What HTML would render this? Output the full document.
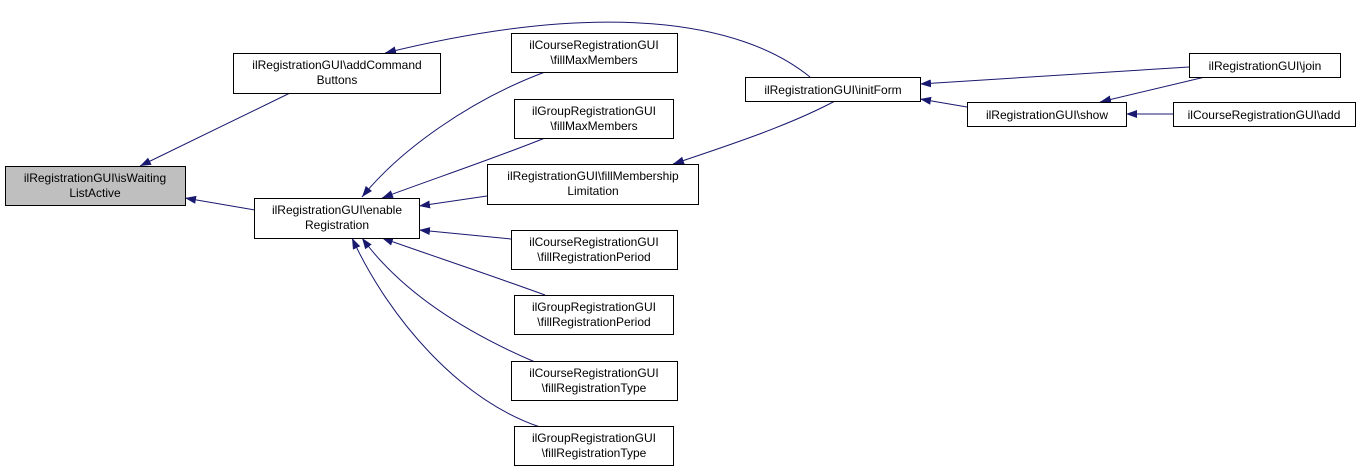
<!DOCTYPE html>
<html><head><meta charset="utf-8"><style>
body{margin:0;background:#fff;}
svg text{font-family:"Liberation Sans",Arial,sans-serif;font-size:12px;fill:#000;text-anchor:middle;}
</style></head><body>
<svg width="1368" height="471" viewBox="0 0 1368 471" xmlns="http://www.w3.org/2000/svg">
<defs><marker id="a" markerWidth="12" markerHeight="10" refX="11" refY="4" orient="auto" markerUnits="userSpaceOnUse"><path d="M0,0 L11,4 L0,8 Z" fill="#191970"/></marker></defs>
<g fill="none" stroke="#191970" stroke-width="1">
<path d="M290,93 L140,166" marker-end="url(#a)"/>
<path d="M255,210 L185,198" marker-end="url(#a)"/>
<path d="M810,77 C740,20 600,0 385,53" marker-end="url(#a)"/>
<path d="M545,72 C470,100 400,150 362,197" marker-end="url(#a)"/>
<path d="M545,138 C490,160 430,180 382,198" marker-end="url(#a)"/>
<path d="M487,196 L419,206" marker-end="url(#a)"/>
<path d="M511,239 L419,230" marker-end="url(#a)"/>
<path d="M545,295 C490,275 430,255 382,238" marker-end="url(#a)"/>
<path d="M535,362 C460,330 400,290 362,238" marker-end="url(#a)"/>
<path d="M540,427 C460,400 390,320 352,238" marker-end="url(#a)"/>
<path d="M835,101 C790,125 730,145 673,164" marker-end="url(#a)"/>
<path d="M1189,67 L920,84" marker-end="url(#a)"/>
<path d="M967,107 L920,99" marker-end="url(#a)"/>
<path d="M1205,77 L1100,102" marker-end="url(#a)"/>
<path d="M1173,114 L1126,114" marker-end="url(#a)"/>
</g>
<g stroke="#000" stroke-width="1">
<rect x="5.5" y="166.5" width="180" height="39" fill="#bfbfbf"/>
<rect x="233.5" y="53.5" width="207" height="40" fill="#fff"/>
<rect x="254.5" y="198.5" width="165" height="40" fill="#fff"/>
<rect x="511.5" y="33.5" width="166" height="39" fill="#fff"/>
<rect x="514.5" y="99.5" width="159" height="39" fill="#fff"/>
<rect x="487.5" y="164.5" width="211" height="40" fill="#fff"/>
<rect x="511.5" y="230.5" width="166" height="39" fill="#fff"/>
<rect x="514.5" y="295.5" width="159" height="39" fill="#fff"/>
<rect x="511.5" y="361.5" width="166" height="39" fill="#fff"/>
<rect x="514.5" y="426.5" width="159" height="39" fill="#fff"/>
<rect x="745.5" y="77.5" width="175" height="24" fill="#fff"/>
<rect x="967.5" y="102.5" width="159" height="24" fill="#fff"/>
<rect x="1189.5" y="53.5" width="151" height="24" fill="#fff"/>
<rect x="1173.5" y="102.5" width="182" height="24" fill="#fff"/>
</g>
<text x="95" y="182">ilRegistrationGUI\isWaiting</text><text x="95" y="197">ListActive</text>
<text x="337" y="69">ilRegistrationGUI\addCommand</text><text x="337" y="84">Buttons</text>
<text x="337" y="214">ilRegistrationGUI\enable</text><text x="337" y="229">Registration</text>
<text x="594" y="49">ilCourseRegistrationGUI</text><text x="594" y="64">\fillMaxMembers</text>
<text x="594" y="115">ilGroupRegistrationGUI</text><text x="594" y="130">\fillMaxMembers</text>
<text x="593" y="180">ilRegistrationGUI\fillMembership</text><text x="593" y="195">Limitation</text>
<text x="594" y="246">ilCourseRegistrationGUI</text><text x="594" y="261">\fillRegistrationPeriod</text>
<text x="594" y="311">ilGroupRegistrationGUI</text><text x="594" y="326">\fillRegistrationPeriod</text>
<text x="594" y="377">ilCourseRegistrationGUI</text><text x="594" y="392">\fillRegistrationType</text>
<text x="594" y="442">ilGroupRegistrationGUI</text><text x="594" y="457">\fillRegistrationType</text>
<text x="833" y="94">ilRegistrationGUI\initForm</text>
<text x="1047" y="119">ilRegistrationGUI\show</text>
<text x="1265" y="70">ilRegistrationGUI\join</text>
<text x="1264" y="119">ilCourseRegistrationGUI\add</text>
</svg>
</body></html>
